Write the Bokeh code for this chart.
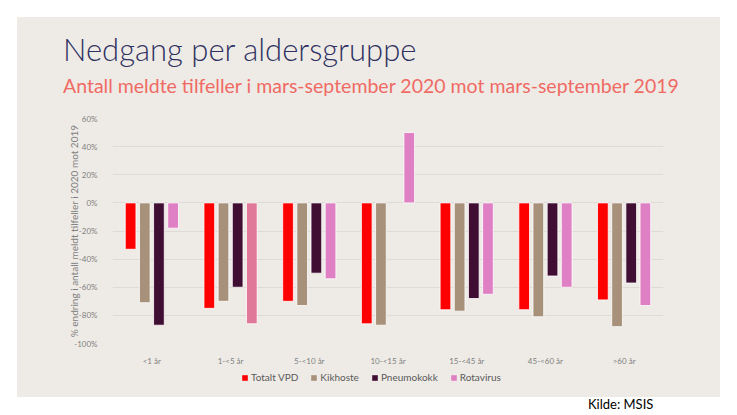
import math
from bokeh.plotting import figure
from bokeh.models import (ColumnDataSource, FixedTicker, PrintfTickFormatter,
                          Legend, LegendItem, Div, FactorRange, Range1d)
from bokeh.transform import dodge
from bokeh.layouts import column
from bokeh.embed import file_html
from bokeh.resources import INLINE

nan = float("nan")

# ---- data ----
categories = ["<1 år", "1-<5 år", "5-<10 år", "10-<15 år", "15-<45 år", "45-<60 år", ">60 år"]
series_names = ["Totalt VPD", "Kikhoste", "Pneumokokk", "Rotavirus"]
totalt_vpd = [-33, -75, -70, -86, -76, -76, -69]
kikhoste = [-71, -70, -73, -87, -77, -81, -88]
pneumokokk = [-87, -60, -50, nan, -68, -52, -57]
rotavirus = [-18, -86, -54, 50, -65, -60, -73]
y_ticks = [-100, -80, -60, -40, -20, 0, 20, 40, 60]

title_text = "Nedgang per aldersgruppe"
subtitle_text = "Antall meldte tilfeller i mars-september 2020 mot mars-september 2019"
y_label = "% endring i antall meldt tilfeller i 2020 mot 2019"
source_text = "Kilde: MSIS"

# ---- styles ----
PANEL = "#EEEBE6"
GRID = "#DEDAD5"
GREY = "#7F7F7F"
FONT = "Lato"
colors = ["#FF0000", "#A8917A", "#400D33", "#E080C4"]
rota_colors = [colors[3], "#E07899", colors[3], colors[3], colors[3], colors[3], colors[3]]
W = 703

# ---- header (title + subtitle) ----
head_html = (
    '<div style="position:relative;width:%dpx;height:95px;">' % W
    + '<div style="position:absolute;left:46px;top:14.1px;font-family:Lato;font-size:31px;font-weight:300;'
      'line-height:37.2px;color:#2E3162;white-space:nowrap;">%s</div>' % title_text
    + '<div style="position:absolute;left:46px;top:57px;font-family:Lato;font-size:19.5px;'
      'line-height:23.4px;color:#F06A64;white-space:nowrap;">%s</div>' % subtitle_text
    + '</div>'
)
head = Div(text=head_html, width=W, height=95, margin=0, styles={"background-color": PANEL})

# ---- main chart ----
src = ColumnDataSource(dict(cat=categories, tv=totalt_vpd, kh=kikhoste, pn=pneumokokk,
                            rv=rotavirus, rvc=rota_colors))

p = figure(width=W, height=256, x_range=FactorRange(*categories), y_range=Range1d(-100, 60),
           title=None, output_backend="svg", toolbar_location=None,
           min_border_left=95, min_border_right=57, min_border_top=6, min_border_bottom=20)
p.background_fill_color = PANEL
p.border_fill_color = PANEL
p.outline_line_color = None

pitch = 0.18
bw = 0.136
fields = ["tv", "kh", "pn", "rv"]
for i, f in enumerate(fields):
    off = (i - 1.5) * pitch
    fill = "rvc" if f == "rv" else colors[i]
    p.vbar(x=dodge("cat", off, range=p.x_range), top=f, bottom=0, width=bw, source=src,
           fill_color=fill, line_color="#FFFFFF", line_width=0.8)

p.yaxis.ticker = FixedTicker(ticks=y_ticks)
p.yaxis.formatter = PrintfTickFormatter(format="%d%%")
for ax in (p.xaxis[0], p.yaxis[0]):
    ax.axis_line_color = None
    ax.major_tick_line_color = None
    ax.minor_tick_line_color = None
    ax.major_label_text_font = FONT
    ax.major_label_text_font_size = "8px"
    ax.major_label_text_color = GREY
p.yaxis.major_label_standoff = 9
p.xaxis.major_label_standoff = 6
p.yaxis.axis_label = y_label
p.yaxis.axis_label_text_font = FONT
p.yaxis.axis_label_text_font_size = "10px"
p.yaxis.axis_label_text_font_style = "normal"
p.yaxis.axis_label_text_color = GREY
p.yaxis.axis_label_standoff = -9
p.xgrid.grid_line_color = None
p.ygrid.grid_line_color = GRID
p.ygrid.grid_line_width = 1

# ---- legend strip (frame aligned with the main chart's frame) ----
leg = figure(width=W, height=29, x_range=Range1d(0, 1), y_range=Range1d(0, 1),
             title=None, output_backend="svg", toolbar_location=None,
             min_border=0, x_axis_type=None, y_axis_type=None)
leg.background_fill_color = PANEL
leg.border_fill_color = PANEL
leg.outline_line_color = None
leg.grid.visible = False
swatch = ColumnDataSource(dict(x=[5], top=[0]))  # legend swatches only, outside the view
leg_renderers = [leg.vbar(x="x", top="top", width=0.1, source=swatch, fill_color=c, line_color=None)
                 for c in colors]
legend = Legend(items=[LegendItem(label=n, renderers=[r]) for n, r in zip(series_names, leg_renderers)],
                orientation="horizontal", location=(129, 14),
                background_fill_alpha=0, border_line_color=None,
                glyph_width=7, glyph_height=7, label_height=10, label_standoff=3,
                spacing=12, padding=0, margin=0,
                label_text_font=FONT, label_text_font_size="10px", label_text_color="#595959")
leg.add_layout(legend, "center")

p.margin = 0
leg.margin = 0
panel = column(head, p, leg, spacing=0, margin=(17, 0, 0, 17),
               styles={"background-color": PANEL})

div = Div(text=source_text, width=100, height=16, margin=(0, 0, 0, 588),
          styles={"font-family": FONT, "font-size": "13px", "line-height": "14px", "color": "#000000"})

layout = column(panel, div, spacing=0, margin=0)
open("out.html", "w").write(file_html(layout, INLINE))
